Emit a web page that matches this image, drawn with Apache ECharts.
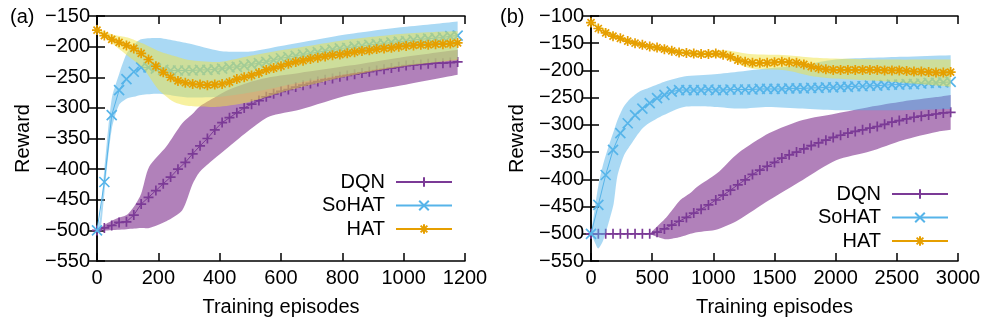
<!DOCTYPE html>
<html>
<head>
<meta charset="utf-8">
<script src="https://cdn.jsdelivr.net/npm/echarts@6/dist/echarts.min.js"></script>
<style>
html, body { margin: 0; padding: 0; background: #fff; }
#chart { width: 986px; height: 329px; }
</style>
</head>
<body>
<div id="chart"></div>
<script>
// ---- panel (a): episodes 0..1176, one point every 24 ----
const episodesA = [0, 24, 48, 72, 96, 120, 144, 168, 192, 216, 240, 264, 288, 312, 336, 360, 384, 408, 432, 456,
  480, 504, 528, 552, 576, 600, 624, 648, 672, 696, 720, 744, 768, 792, 816, 840, 864, 888, 912, 936,
  960, 984, 1008, 1032, 1056, 1080, 1104, 1128, 1152, 1176]
const dqnA = [-500, -496, -492, -487, -486, -475, -457, -446, -435, -424, -413, -400, -389, -375, -362, -350, -336, -324, -316, -308,
  -300, -294, -288, -282, -277, -273, -270, -266, -263, -260, -257, -254, -252, -249, -247, -245, -243, -241, -239, -237,
  -235, -233, -231, -230, -229, -228, -227, -227, -226, -225]
const sohatA = [-500, -421, -312, -271, -253, -241, -234, -234, -236, -238, -239, -239, -239, -239, -238, -238, -237, -236, -234, -233,
  -231, -229, -227, -225, -222, -219, -217, -215, -213, -211, -209, -207, -205, -203, -202, -200, -199, -197, -196, -195,
  -193, -192, -191, -189, -188, -187, -186, -185, -183, -182]
const hatA = [-173, -182, -188, -193, -198, -203, -211, -221, -232, -242, -250, -256, -259, -261, -262, -263, -262, -261, -258, -253,
  -250, -247, -243, -238, -235, -232, -228, -225, -223, -220, -218, -216, -214, -213, -211, -209, -207, -206, -204, -203,
  -202, -200, -199, -198, -197, -197, -196, -196, -195, -194]

// spread bands (a)
const dqnBandXA = [0, 34, 66, 96, 122, 144, 170, 226, 278, 311, 334, 366, 431, 497, 562, 660, 823, 986, 1176]
const dqnLoA = [-500, -500, -499, -498, -497, -496, -496, -485, -467, -425, -405, -390, -363, -336, -314, -303, -279, -264, -246]
const dqnHiA = [-500, -488, -480, -475, -460, -440, -396, -363, -325, -310, -298, -288, -270, -258, -250, -243, -231, -218, -205]
const sohatBandXA = [0, 10, 24, 48, 72, 96, 120, 144, 200, 250, 300, 400, 500, 600, 700, 800, 900, 1000, 1100, 1176]
const sohatLoA = [-500, -505, -440, -335, -295, -285, -282, -279, -277, -280, -283, -282, -275, -265, -255, -246, -238, -231, -225, -220]
const sohatHiA = [-500, -480, -400, -285, -245, -212, -197, -188, -186, -190, -195, -207, -208, -199, -190, -181, -174, -168, -163, -159]
const hatBandXA = [0, 50, 100, 150, 200, 250, 300, 400, 500, 600, 700, 800, 900, 1000, 1100, 1176]
const hatLoA = [-175, -195, -215, -235, -270, -290, -297, -298, -290, -275, -262, -250, -240, -232, -226, -222]
const hatHiA = [-171, -180, -185, -195, -207, -215, -222, -225, -215, -206, -198, -190, -184, -179, -176, -175]

// ---- panel (b): episodes 0..2940, one point every 60 ----
const episodesB = [0, 60, 120, 180, 240, 300, 360, 420, 480, 540, 600, 660, 720, 780, 840, 900, 960, 1020, 1080, 1140,
  1200, 1260, 1320, 1380, 1440, 1500, 1560, 1620, 1680, 1740, 1800, 1860, 1920, 1980, 2040, 2100, 2160, 2220, 2280, 2340,
  2400, 2460, 2520, 2580, 2640, 2700, 2760, 2820, 2880, 2940]
const dqnB = [-500, -500, -500, -500, -500, -500, -500, -500, -500, -497, -491, -484, -477, -470, -462, -455, -447, -438, -429, -420,
  -410, -401, -391, -383, -376, -369, -361, -355, -350, -344, -338, -333, -328, -323, -319, -315, -312, -309, -306, -303,
  -299, -295, -292, -289, -286, -284, -282, -280, -278, -277]
const sohatB = [-500, -447, -392, -346, -315, -297, -282, -270, -260, -251, -245, -239, -236, -236, -236, -236, -235, -236, -236, -235,
  -235, -235, -235, -234, -234, -234, -234, -233, -233, -233, -232, -232, -231, -231, -230, -230, -229, -229, -228, -228,
  -227, -226, -226, -225, -225, -224, -223, -223, -222, -221]
const hatB = [-112, -123, -131, -137, -141, -146, -150, -153, -156, -158, -161, -164, -167, -168, -169, -170, -170, -169, -171, -175,
  -181, -184, -186, -186, -186, -185, -184, -185, -186, -189, -193, -196, -198, -199, -199, -199, -199, -199, -199, -199,
  -200, -200, -200, -201, -202, -202, -203, -204, -204, -203]

// spread bands (b)
const dqnBandXB = [480, 510, 615, 730, 812, 866, 1030, 1202, 1458, 1731, 2004, 2276, 2549, 2822, 2940]
const dqnLoB = [-500, -503, -510, -506, -500, -497, -492, -475, -438, -401, -365, -349, -328, -313, -309]
const dqnHiB = [-500, -493, -470, -438, -425, -414, -389, -352, -315, -291, -279, -267, -257, -249, -245]
const sohatBandXB = [0, 30, 60, 100, 150, 185, 215, 266, 320, 400, 460, 595, 760, 1010, 1220, 1450, 1730, 2000, 2550, 2940]
const sohatLoB = [-500, -515, -527, -512, -475, -445, -395, -358, -338, -312, -299, -282, -267, -267, -270, -267, -270, -273, -273, -271]
const sohatHiB = [-500, -455, -412, -372, -335, -312, -292, -267, -252, -238, -233, -221, -211, -207, -202, -196, -190, -180, -175, -172]
const hatBandXB = [0, 300, 600, 900, 1100, 1300, 1600, 1800, 2000, 2400, 2940]
const hatLoB = [-114, -149, -165, -174, -178, -196, -200, -210, -215, -220, -230]
const hatHiB = [-110, -143, -157, -165, -163, -170, -172, -176, -178, -180, -180]

const names = ['DQN', 'SoHAT', 'HAT']

const FONT = 'Liberation Sans, Arial, sans-serif'
const COLOR = { dqn: '#7b3a96', sohat: '#56b4e9', hat: '#e69f00' }
const BAND = { dqn: 'rgba(125,45,140,0.6)', sohat: 'rgba(86,180,233,0.5)', hat: 'rgba(240,228,66,0.5)' }
// gnuplot point types: + , x , *
const SYMBOL = {
  dqn: 'path://M0,5L10,5M5,0L5,10',
  sohat: 'path://M0,0L10,10M0,10L10,0',
  hat: 'path://M0,5L10,5M5,0L5,10M1.5,1.5L8.5,8.5M1.5,8.5L8.5,1.5'
}

const pairs = (xs, ys) => xs.map((x, i) => [x, ys[i]])

// shaded spread: one closed polygon (upper edge, then lower edge back).
// end points are doubled so the smoothing keeps square ends.
const band = (panel, key, xs, lo, hi, z) => ({
  type: 'custom', xAxisIndex: panel * 2, yAxisIndex: panel * 2, z, silent: true, clip: true,
  data: xs.map((x, i) => [x, lo[i], hi[i]]),
  encode: { x: 0, y: [1, 2] },
  renderItem: (params, api) => {
    if (params.dataIndex !== 0) return null
    const upper = xs.map((x, i) => api.coord([x, hi[i]]))
    const lower = xs.map((x, i) => api.coord([x, lo[i]])).reverse()
    const n = upper.length
    const pts = [upper[0], ...upper, upper[n - 1], lower[0], ...lower, lower[n - 1]]
    return {
      type: 'polygon',
      shape: { points: pts, smooth: 0.25 },
      style: { fill: BAND[key], stroke: null }
    }
  }
})

const curve = (panel, name, key, xs, ys, z) => ({
  type: 'line', name, xAxisIndex: panel * 2, yAxisIndex: panel * 2,
  data: pairs(xs, ys), z,
  symbol: SYMBOL[key], symbolSize: 10, symbolKeepAspect: true,
  lineStyle: { color: COLOR[key], width: 1 },
  itemStyle: { color: COLOR[key], borderColor: COLOR[key], borderWidth: 1.7 },
  emphasis: { disabled: true }
})

const minus = (v) => (v < 0 ? '\u2212' + (-v) : String(v))
const axisLine = { show: true, lineStyle: { color: '#000', width: 1.5 } }
const tick = { show: true, inside: true, length: 8, lineStyle: { color: '#000', width: 1.5 } }
const label = { color: '#000', fontSize: 20, fontFamily: FONT }

const xAxes = (grid, max, interval) => [
  {
    type: 'value', gridIndex: grid, min: 0, max, interval, position: 'bottom',
    name: 'Training episodes', nameLocation: 'middle', nameGap: 36,
    nameTextStyle: label, axisLine, axisTick: tick,
    axisLabel: Object.assign({ margin: 7, formatter: (v) => String(v) }, label), splitLine: { show: false }
  },
  {
    type: 'value', gridIndex: grid, min: 0, max, interval, position: 'top',
    axisLine, axisTick: tick, axisLabel: { show: false }, splitLine: { show: false }
  }
]
const yAxes = (grid, max) => [
  {
    type: 'value', gridIndex: grid, min: -550, max, interval: 50, position: 'left',
    name: 'Reward', nameLocation: 'middle', nameGap: 64,
    nameTextStyle: label, axisLine, axisTick: tick,
    axisLabel: Object.assign({ margin: 7, formatter: minus }, label), splitLine: { show: false }
  },
  {
    type: 'value', gridIndex: grid, min: -550, max, interval: 50, position: 'right',
    axisLine, axisTick: tick, axisLabel: { show: false }, splitLine: { show: false }
  }
]

const legend = (right, top) => ({
  data: names, orient: 'vertical', right, top, align: 'right',
  itemWidth: 56, itemHeight: 12, itemGap: 3.5, selectedMode: false,
  textStyle: { color: '#000', fontSize: 20, fontFamily: FONT, padding: [0, 6, 0, 0] },
  lineStyle: { width: 2 }
})

const chart = echarts.init(document.getElementById('chart'), null, { renderer: 'canvas' })
chart.setOption({
  animation: false,
  backgroundColor: '#fff',
  textStyle: { fontFamily: FONT },
  title: [
    { text: '(a)', left: 5, top: 2, textStyle: { fontSize: 20, fontWeight: 'normal', color: '#000', fontFamily: FONT } },
    { text: '(b)', left: 495, top: 2, textStyle: { fontSize: 20, fontWeight: 'normal', color: '#000', fontFamily: FONT } }
  ],
  grid: [
    { left: 97, top: 16, width: 368, height: 245 },
    { left: 591, top: 16, width: 367, height: 245 }
  ],
  xAxis: [...xAxes(0, 1200, 200), ...xAxes(1, 3000, 500)],
  yAxis: [...yAxes(0, -150), ...yAxes(1, -100)],
  legend: [legend(528, 167), legend(32, 179)],
  series: [
    band(0, 'dqn', dqnBandXA, dqnLoA, dqnHiA, 1),
    curve(0, names[0], 'dqn', episodesA, dqnA, 2),
    band(0, 'sohat', sohatBandXA, sohatLoA, sohatHiA, 3),
    curve(0, names[1], 'sohat', episodesA, sohatA, 4),
    band(0, 'hat', hatBandXA, hatLoA, hatHiA, 5),
    curve(0, names[2], 'hat', episodesA, hatA, 6),

    band(1, 'dqn', dqnBandXB, dqnLoB, dqnHiB, 1),
    curve(1, names[0], 'dqn', episodesB, dqnB, 2),
    band(1, 'sohat', sohatBandXB, sohatLoB, sohatHiB, 3),
    curve(1, names[1], 'sohat', episodesB, sohatB, 4),
    band(1, 'hat', hatBandXB, hatLoB, hatHiB, 5),
    curve(1, names[2], 'hat', episodesB, hatB, 6)
  ]
})
</script>
</body>
</html>
